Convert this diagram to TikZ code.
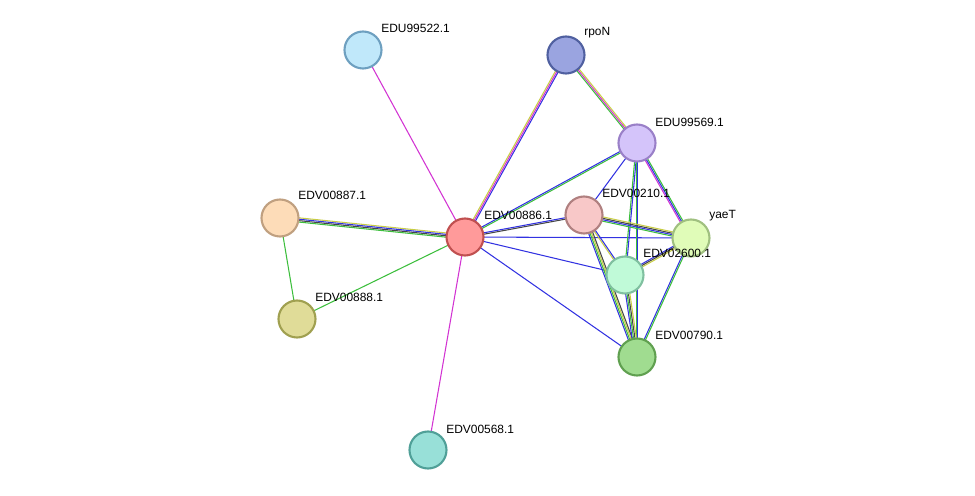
\documentclass[tikz,border=0pt]{standalone}
\usepackage{fontspec}
\setmainfont{Liberation Sans}
\usetikzlibrary{calc}
\definecolor{egreen}{RGB}{60,190,60}
\definecolor{eblue}{RGB}{50,50,225}
\definecolor{eyellow}{RGB}{200,205,70}
\definecolor{emag}{RGB}{210,50,210}
\definecolor{eblack}{RGB}{70,70,70}
\tikzset{
  prot/.style={circle, minimum size=0.74cm, inner sep=0pt, line width=1.2pt},
  lab/.style={anchor=south west, font=\fontsize{6.8}{8}\selectfont, inner sep=0pt},
}
% parallel coloured links between two nodes
\newcommand\lnk[4]{%
  \foreach \cc [count=\i] in {#4}{%
    \pgfmathsetmacro\off{(\i-(#3+1)/2)*0.8}%
    \draw[\cc, line width=0.6pt] ($(#1)!\off pt!90:(#2)$) -- ($(#2)!\off pt!-90:(#1)$);
  }}

\begin{document}
\begin{tikzpicture}[x=0.02cm, y=-0.02cm]
\useasboundingbox (0,0) rectangle (975,496);
% coordinates of the proteins
\coordinate (c522) at (363,50);
\coordinate (crpo) at (566,55);
\coordinate (c569) at (637,143);
\coordinate (c887) at (280,218);
\coordinate (c886) at (465,237);
\coordinate (c210) at (584,215);
\coordinate (cyae) at (691,238);
\coordinate (c600) at (625,275);
\coordinate (c888) at (297,319);
\coordinate (c790) at (637,357);
\coordinate (c568) at (428,450);

% links
\lnk{c886}{c522}{1}{emag}
\lnk{c886}{c568}{1}{emag}
\lnk{c886}{c887}{4}{eyellow,eblue,eblack,egreen}
\lnk{c887}{c888}{1}{egreen}
\lnk{c886}{c888}{1}{egreen}
\lnk{c886}{crpo}{3}{eblue,emag,eyellow}
\lnk{c886}{c569}{2}{egreen,eblue}
\lnk{c886}{c210}{2}{eblack,eblue}
\lnk{c886}{cyae}{1}{eblue}
\lnk{c886}{c600}{1}{eblue}
\lnk{c886}{c790}{1}{eblue}
\lnk{crpo}{c569}{3}{egreen,emag,eyellow}
\lnk{c569}{cyae}{3}{emag,eblue,egreen}
\lnk{c569}{c210}{1}{eblue}
\lnk{c569}{c600}{2}{egreen,eblue}
\lnk{c569}{c790}{2}{egreen,eblue}
\lnk{c210}{cyae}{4}{egreen,eblue,eblack,eyellow}
\lnk{c210}{c600}{2}{eyellow,eblue}
\lnk{c210}{c790}{4}{eblue,egreen,eyellow,eblack}
\lnk{cyae}{c600}{3}{eblue,eblack,eyellow}
\lnk{cyae}{c790}{2}{eblue,egreen}
\lnk{c600}{c790}{4}{eblue,egreen,eblack,eyellow}

% proteins
\node[prot, fill={rgb,255:red,192;green,232;blue,250}, draw={rgb,255:red,110;green,160;blue,192}] (n522) at (c522) {};
\node[prot, fill={rgb,255:red,154;green,164;blue,224}, draw={rgb,255:red,80;green,96;blue,160}] (nrpo) at (crpo) {};
\node[prot, fill={rgb,255:red,212;green,196;blue,250}, draw={rgb,255:red,154;green,128;blue,200}] (n569) at (c569) {};
\node[prot, fill={rgb,255:red,253;green,220;blue,184}, draw={rgb,255:red,192;green,160;blue,128}] (n887) at (c887) {};
\node[prot, fill={rgb,255:red,255;green,154;blue,154}, draw={rgb,255:red,192;green,80;blue,80}] (n886) at (c886) {};
\node[prot, fill={rgb,255:red,248;green,200;blue,200}, draw={rgb,255:red,176;green,128;blue,128}] (n210) at (c210) {};
\node[prot, fill={rgb,255:red,224;green,252;blue,184}, draw={rgb,255:red,160;green,192;blue,128}] (nyae) at (cyae) {};
\node[prot, fill={rgb,255:red,192;green,250;blue,216}, draw={rgb,255:red,128;green,192;blue,160}] (n600) at (c600) {};
\node[prot, fill={rgb,255:red,224;green,220;blue,152}, draw={rgb,255:red,160;green,160;blue,80}] (n888) at (c888) {};
\node[prot, fill={rgb,255:red,160;green,220;blue,144}, draw={rgb,255:red,96;green,160;blue,80}] (n790) at (c790) {};
\node[prot, fill={rgb,255:red,152;green,224;blue,216}, draw={rgb,255:red,80;green,160;blue,152}] (n568) at (c568) {};

% labels
\node[lab] at (381,33) {EDU99522.1};
\node[lab] at (584,38) {rpoN};
\node[lab] at (655,127) {EDU99569.1};
\node[lab] at (298,200) {EDV00887.1};
\node[lab] at (484,220) {EDV00886.1};
\node[lab] at (602,198) {EDV00210.1};
\node[lab] at (709,221) {yaeT};
\node[lab] at (643,258) {EDV02600.1};
\node[lab] at (315,302) {EDV00888.1};
\node[lab] at (655,340) {EDV00790.1};
\node[lab] at (446,434) {EDV00568.1};
\end{tikzpicture}
\end{document}
